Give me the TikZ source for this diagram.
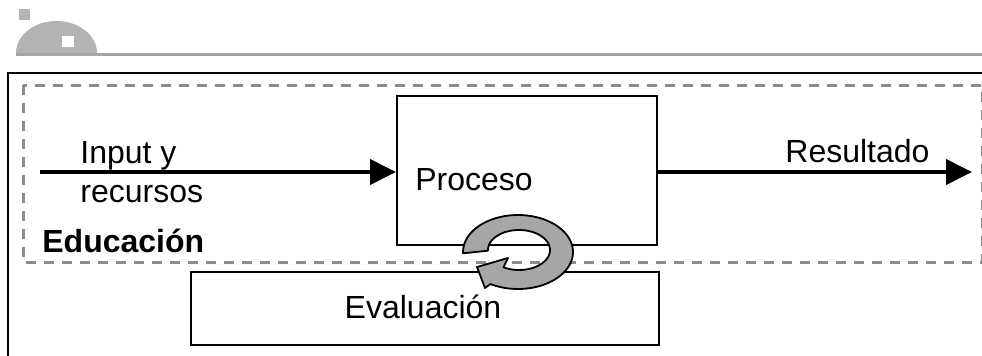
\documentclass[tikz,border=0pt]{standalone}
\usepackage{fontspec}
\setmainfont{Liberation Sans}
\usetikzlibrary{arrows.meta}
\definecolor{logogray}{HTML}{B3B3B3}
\definecolor{rulegray}{HTML}{A3A3A3}
\definecolor{dashgray}{HTML}{8C8C8C}
\definecolor{ringgray}{HTML}{A6A6A6}
\tikzset{
  txt/.style={inner sep=0pt, font=\fontsize{16}{19}\selectfont},
  boldtxt/.style={txt, font=\fontsize{16}{19}\selectfont\bfseries},
  box/.style={draw=black, line width=1pt, inner sep=0pt},
  flow/.style={line width=2pt, -{Triangle[length=13pt,width=12.5pt]}},
  frame/.style={draw=black, line width=1pt},
  region/.style={draw=dashgray, line width=1.5pt, dash pattern=on 5pt off 4pt},
  ringarrow/.style={draw=black, line width=0.9pt, fill=ringgray, line join=round}
}
\begin{document}
\begin{tikzpicture}[x=0.5pt,y=-0.5pt]
\useasboundingbox (0,0) rectangle (982,355);
\clip (0,0) rectangle (982,355);
% logo
\fill[logogray] (19,9) rectangle (30,20);
\fill[logogray] plot[domain=180:360, samples=60] ({56.5+40.5*cos(\x)},{53+32*sin(\x)}) -- cycle;
\fill[white] (62,36) rectangle (74,47);
\draw[rulegray, line width=1.5pt] (16,54.5) -- (982,54.5);
% frame
\draw[frame] (8,370) -- (8,73) -- (1000,73);
% dashed region
\draw[region] (23,85) rectangle (982,262);
% boxes
\node[box, minimum width=130pt, minimum height=74.5pt] (proc) at (527,170.5) {};
\node[box, minimum width=234pt, minimum height=36.5pt] (eval) at (425,308.5) {};
% texts
\node[txt, anchor=base west] (tin1) at (80,163) {Input y};
\node[txt, anchor=base west] (tin2) at (80,202) {recursos};
\node[txt, anchor=base west] (tproc) at (415,190) {Proceso};
\node[txt, anchor=base west] (tres) at (785,162) {Resultado};
\node[boldtxt, anchor=base west] (tedu) at (42,252) {Educación};
\node[txt, anchor=base] (teval) at (423,318) {Evaluación};
% connectors
\coordinate (in) at (40,172);
\coordinate (out) at (972,172);
\draw[flow] (in) -- (in -| proc.west);
\draw[flow] (out -| proc.east) -- (out);
% circular arrow
\draw[ringarrow] plot[domain=178:480, samples=80] ({518+55*cos(\x)},{252+37*sin(\x)})
  -- (485,288) -- (477,267) -- (508,258)
  -- plot[domain=480:178, samples=80] ({519+31*cos(\x)},{250+20*sin(\x)}) -- cycle;
\end{tikzpicture}
\end{document}
